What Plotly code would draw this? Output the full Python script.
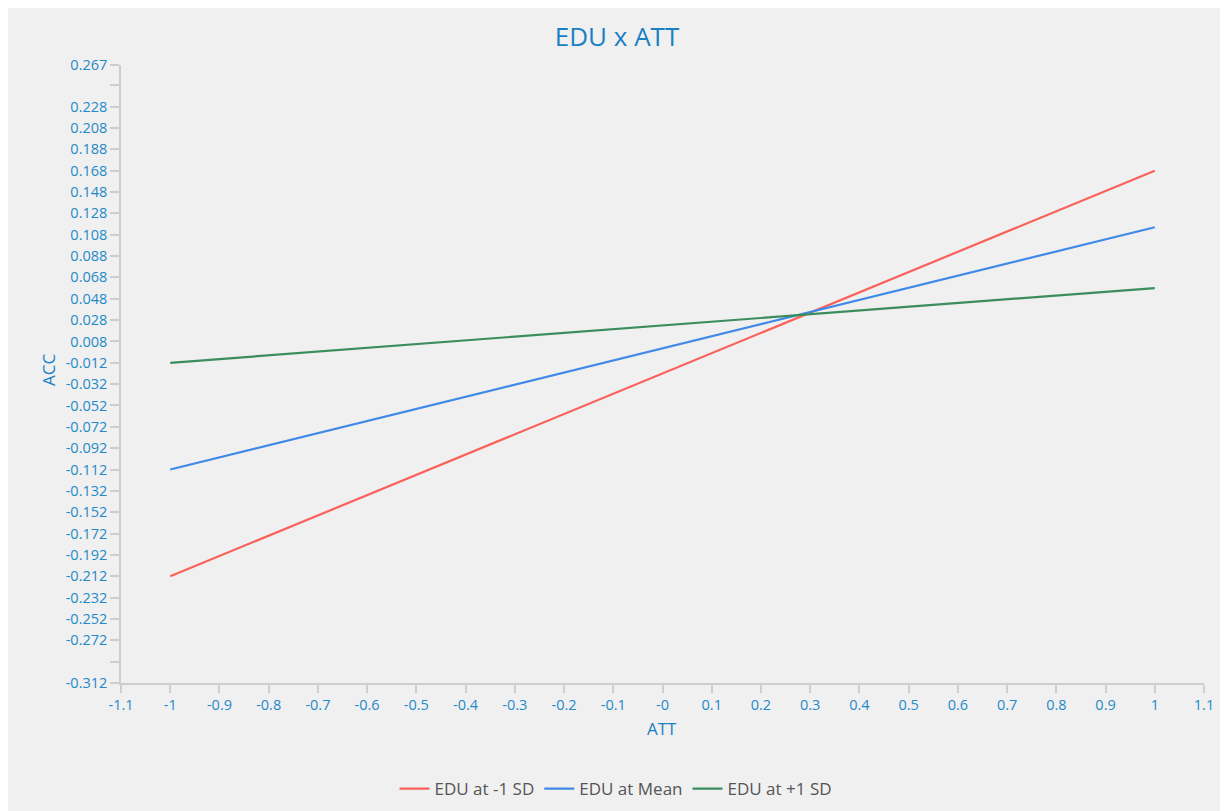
import plotly.graph_objects as go

# ---- data ----
att_x = [-1, 1]
edu_low = [-0.212, 0.168]    # EDU at -1 SD
edu_mean = [-0.112, 0.115]   # EDU at Mean
edu_high = [-0.012, 0.058]   # EDU at +1 SD

series_names = ["EDU at -1 SD", "EDU at Mean", "EDU at +1 SD"]
series_colors = ["#f9615a", "#4089e6", "#3b8d5e"]

x_tickvals = [round(-1.1 + 0.1 * i, 1) for i in range(23)]
x_ticktext = ["-1.1", "-1", "-0.9", "-0.8", "-0.7", "-0.6", "-0.5", "-0.4", "-0.3", "-0.2", "-0.1",
              "-0", "0.1", "0.2", "0.3", "0.4", "0.5", "0.6", "0.7", "0.8", "0.9", "1", "1.1"]

y_tickvals = [0.267] + [round(0.248 - 0.02 * i, 3) for i in range(28)] + [-0.312]
y_ticktext = ["0.267", ""] + ["%.3f" % v for v in y_tickvals[2:-2]] + ["", "-0.312"]

Y_MIN, Y_MAX = -0.312, 0.267

tick_color = "#1f8ac9"
title_color = "#1a80c4"
axis_line = "#cdcdcd"
bg = "#f0f0f0"
font_family = "Open Sans, Noto Sans, sans-serif"

fig = go.Figure()
for name, ys, col in zip(series_names, [edu_low, edu_mean, edu_high], series_colors):
    fig.add_trace(go.Scatter(x=att_x, y=ys, mode="lines", name=name,
                             line=dict(color=col, width=2.2)))

# page body has an 8px margin, so figure coords = screen coords - 8
OFF = 8
W, H = 1228, 811
ml, mr, mt, mb = 121 - OFF, W - (1204 - OFF), 65 - OFF, H - (683 - OFF)
pw, ph = W - ml - mr, H - mt - mb

def px_x(p):
    return (p - OFF - ml) / pw

def px_y(p):
    return (H - mb - (p - OFF)) / ph

fig.update_layout(
    width=W, height=H,
    autosize=False,
    margin=dict(l=ml, r=mr, t=mt, b=mb, pad=0, autoexpand=False),
    paper_bgcolor=bg, plot_bgcolor=bg,
    font=dict(family=font_family, color=tick_color),
    title=dict(text="EDU x ATT", x=(617 - OFF) / W, xanchor="center",
               y=1 - (37 - OFF) / H, yanchor="middle",
               font=dict(size=26, color=title_color, family=font_family)),
    xaxis=dict(range=[-1.1, 1.1], tickmode="array", tickvals=x_tickvals, ticktext=x_ticktext,
               tickangle=0, automargin=False,
               showgrid=False, zeroline=False, showline=True, linecolor=axis_line, linewidth=1.5,
               ticks="outside", ticklen=8, tickwidth=1.5, tickcolor=axis_line,
               tickfont=dict(size=14.5, color=tick_color, family=font_family)),
    yaxis=dict(range=[Y_MIN, Y_MAX], tickmode="array", tickvals=y_tickvals, ticktext=y_ticktext,
               automargin=False,
               showgrid=False, zeroline=False, showline=True, linecolor=axis_line, linewidth=1.5,
               ticks="outside", ticklen=9, tickwidth=1.5, tickcolor=axis_line,
               tickfont=dict(size=14.5, color=tick_color, family=font_family)),
    legend=dict(orientation="h", x=px_x(616), xanchor="center",
                y=px_y(789), yanchor="middle",
                font=dict(size=17, color="#555555", family=font_family),
                bgcolor="rgba(0,0,0,0)"),
    annotations=[
        dict(text="ACC", xref="paper", yref="paper", x=px_x(48), y=px_y(370),
             textangle=-90, showarrow=False, xanchor="center", yanchor="middle",
             font=dict(size=17, color=title_color, family=font_family)),
        dict(text="ATT", xref="paper", yref="paper", x=px_x(662), y=px_y(728),
             showarrow=False, xanchor="center", yanchor="middle",
             font=dict(size=17, color=title_color, family=font_family)),
    ],
)

fig.write_html("out.html")
